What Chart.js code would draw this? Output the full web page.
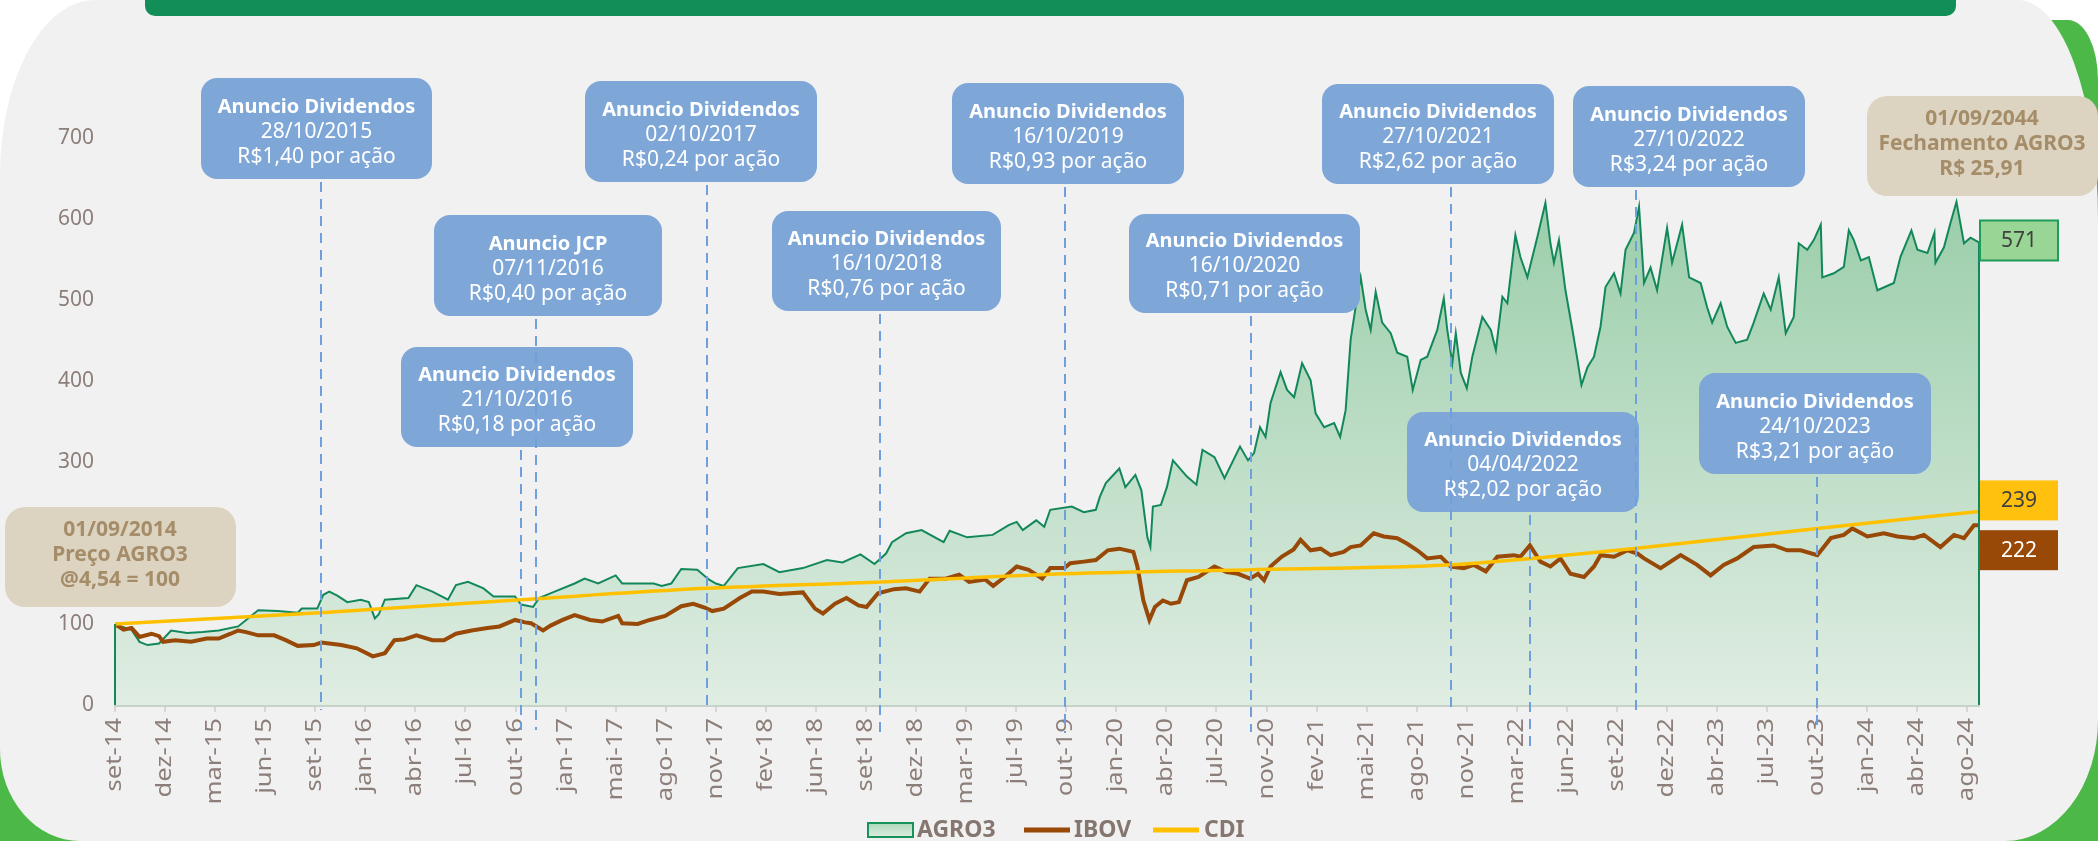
<!DOCTYPE html>
<html lang="pt-BR">
<head>
<meta charset="utf-8">
<title>AGRO3 x IBOV x CDI</title>
<script src="https://cdn.jsdelivr.net/npm/chart.js@4.4.1/dist/chart.umd.min.js"></script>
<style>
  body { margin: 0; background: #fff; }
  #page { position: relative; width: 2098px; height: 841px; overflow: hidden; background: #fff; }
  #green { position: absolute; left: 0; top: 20px; width: 2098px; height: 821px; background: #4cb848;
           border-radius: 300px 30px 0 0 / 500px 60px 0 0; }
  #panel { position: absolute; left: 0; top: 0; width: 2098px; height: 841px; background: #f1f1f1;
           border-radius: 95px 80px 93px 80px / 175px 220px 121px 92px; }
  #banner { position: absolute; left: 145px; top: 0; width: 1811px; height: 16px; background: #128f59;
            border-radius: 0 0 10px 10px; }
  canvas { position: absolute; left: 0; top: 0; }
</style>
</head>
<body>
<div id="page">
  <div id="green"></div>
  <div id="panel"></div>
  <div id="banner"></div>
  <canvas id="chart" width="2098" height="841"></canvas>
</div>
<script>
// rótulos do eixo x (um a cada ~67 pregões)
const xLabels = ["set-14","dez-14","mar-15","jun-15","set-15","jan-16","abr-16","jul-16","out-16","jan-17",
  "mai-17","ago-17","nov-17","fev-18","jun-18","set-18","dez-18","mar-19","jul-19","out-19","jan-20","abr-20",
  "jul-20","nov-20","fev-21","mai-21","ago-21","nov-21","mar-22","jun-22","set-22","dez-22","abr-23","jul-23",
  "out-23","jan-24","abr-24","ago-24"];
const yTicks = [0, 100, 200, 300, 400, 500, 600, 700];

// AGRO3 base 100 (posição em unidades de rótulo do eixo x)
const agroPos = [0,0.17,0.33,0.49,0.65,0.88,1.0,1.12,1.44,1.75,2.07,2.46,2.62,2.86,3.25,3.65,3.73,4.04,4.16,4.28,
  4.44,4.64,4.91,5.07,5.19,5.27,5.39,5.86,6.02,6.34,6.65,6.81,7.05,7.36,7.56,7.99,8.11,8.35,8.47,8.78,9.18,9.38,
  9.65,10.0,10.13,10.76,10.92,11.11,11.31,11.63,11.86,12.0,12.16,12.44,12.95,13.27,13.74,14.22,14.53,14.89,15.17,
  15.4,15.52,15.8,16.11,16.55,16.67,17.02,17.53,17.85,18.01,18.13,18.4,18.56,18.68,19.11,19.35,19.59,19.67,19.79,
  20.06,20.18,20.38,20.5,20.62,20.68,20.73,20.89,21.01,21.13,21.41,21.6,21.72,21.96,22.16,22.47,22.63,22.75,22.87,
  22.98,23.08,23.28,23.41,23.55,23.71,23.88,23.98,24.15,24.35,24.47,24.58,24.68,24.81,24.88,24.98,25.08,25.18,
  25.31,25.48,25.61,25.81,25.92,26.08,26.21,26.41,26.54,26.61,26.71,26.78,26.88,27.0,27.11,27.31,27.48,27.58,
  27.71,27.81,27.97,28.07,28.21,28.41,28.57,28.67,28.74,28.84,28.97,29.11,29.21,29.29,29.41,29.54,29.67,29.77,
  29.94,30.07,30.17,30.34,30.44,30.54,30.67,30.8,31.0,31.1,31.3,31.44,31.67,31.8,31.9,32.07,32.2,32.37,32.6,
  32.73,32.93,33.07,33.23,33.37,33.53,33.63,33.8,33.93,34.07,34.1,34.33,34.53,34.63,34.73,34.87,35.03,35.2,35.53,
  35.66,35.88,36.0,36.2,36.34,36.36,36.53,36.66,36.78,36.93,37.06,37.23];
const agroVal = [100,96,93,78,74,76,84,92,89,90,92,97,105,117,116,114,119,119,136,140,
  135,127,130,127,107,112,130,132,148,140,130,148,152,144,134,134,124,121,132,140,150,156,
  150,160,150,150,147,150,168,167,155,150,147,169,174,164,169,179,176,186,174,
  187,201,212,216,201,215,207,210,222,226,216,228,220,241,245,238,241,257,274,
  292,269,284,265,207,195,245,247,269,302,282,272,315,306,280,319,302,311,343,
  331,373,411,389,380,422,401,360,343,348,331,364,451,504,528,488,463,510,
  472,459,435,430,389,426,430,463,502,463,422,459,410,391,430,479,463,438,
  504,496,580,553,528,578,620,570,546,574,512,463,426,395,417,430,467,516,
  533,508,562,583,615,521,540,512,589,546,593,528,521,491,472,496,467,447,451,
  472,508,488,528,459,479,570,562,574,593,528,533,541,586,574,549,553,512,521,
  553,586,562,558,583,546,565,595,621,570,577,571];

// IBOV base 100
const ibovPos = [0,0.17,0.33,0.49,0.73,0.88,0.96,1.2,1.52,1.83,2.07,2.31,2.46,2.62,2.86,3.18,3.41,3.65,3.97,4.12,
  4.52,4.83,5.15,5.39,5.58,5.78,6.02,6.34,6.57,6.81,7.12,7.44,7.68,7.99,8.19,8.31,8.55,8.7,8.94,9.18,9.49,9.73,
  10.05,10.13,10.44,10.68,10.99,11.31,11.55,11.79,11.93,12.16,12.48,12.72,12.95,13.27,13.74,13.98,14.14,14.38,
  14.61,14.85,15.01,15.24,15.56,15.8,16.07,16.27,16.59,16.86,17.06,17.38,17.54,17.77,18.01,18.25,18.52,18.68,
  18.96,19.08,19.35,19.59,19.83,20.06,20.34,20.42,20.54,20.66,20.77,20.93,21.09,21.25,21.41,21.64,21.96,22.2,
  22.43,22.67,22.83,22.95,23.08,23.3,23.54,23.68,23.88,24.08,24.28,24.54,24.68,24.88,25.14,25.34,25.61,25.81,
  26.01,26.21,26.48,26.68,26.94,27.14,27.38,27.61,27.94,28.07,28.26,28.47,28.67,28.87,29.07,29.34,29.54,29.67,
  29.94,30.21,30.41,30.54,30.87,31.27,31.6,31.87,32.13,32.4,32.73,33.13,33.4,33.67,34.0,34.27,34.53,34.7,35.0,
  35.33,35.6,35.93,36.13,36.46,36.73,36.93,37.13,37.23];
const ibovVal = [100,93,95,84,88,85,78,80,78,82,82,88,92,90,86,86,80,73,74,77,
  74,70,60,64,80,81,86,80,80,88,92,95,97,105,102,101,92,98,105,111,105,103,
  110,101,100,105,110,122,125,120,116,119,132,140,140,137,139,119,113,125,
  132,123,121,138,143,144,140,156,156,161,152,155,147,158,171,167,156,169,
  169,175,177,179,191,193,189,171,129,105,121,129,125,127,154,158,171,164,
  162,156,162,154,171,183,192,204,191,193,185,189,195,197,212,208,206,199,
  191,181,183,171,169,173,165,183,185,183,197,177,171,181,162,158,171,185,
  183,191,187,181,169,185,173,160,173,181,195,197,191,191,185,206,210,218,208,
  212,208,206,210,195,210,206,222,222];

// CDI base 100
const cdiPos = [0, 4.1, 8.1, 11.8, 15.3, 19.0, 22.7, 26.7, 28.3, 30.3, 34.0, 37.23];
const cdiVal = [100, 114, 130, 144, 152, 162, 167, 173, 181, 193, 218, 239];

// anúncios de proventos
const eventTitles = ["Anuncio Dividendos","Anuncio JCP","Anuncio Dividendos","Anuncio Dividendos","Anuncio Dividendos",
  "Anuncio Dividendos","Anuncio Dividendos","Anuncio Dividendos","Anuncio Dividendos","Anuncio Dividendos","Anuncio Dividendos"];
const eventDates = ["28/10/2015","07/11/2016","21/10/2016","02/10/2017","16/10/2018","16/10/2019","16/10/2020",
  "27/10/2021","27/10/2022","04/04/2022","24/10/2023"];
const eventAmounts = ["R$1,40","R$0,40","R$0,18","R$0,24","R$0,76","R$0,93","R$0,71","R$2,62","R$3,24","R$2,02","R$3,21"];
const eventPos = [4.12, 8.40, 8.10, 11.83, 15.28, 18.98, 22.69, 26.68, 30.38, 28.26, 34.0];

// layout das caixas (px): x, y, largura, altura, fim da linha tracejada
const eventBoxes = [
  [201, 78, 231, 101, 710], [434, 215, 228, 101, 730], [401, 347, 232, 100, 730], [585, 81, 232, 101, 707],
  [772, 211, 229, 100, 732], [952, 83, 232, 101, 733], [1129, 214, 231, 99, 732], [1322, 84, 232, 100, 710],
  [1573, 86, 232, 101, 710], [1407, 412, 232, 100, 750], [1699, 373, 232, 101, 730]
];

const startNote = ["01/09/2014", "Preço AGRO3", "@4,54 = 100"];
const endNote = ["01/09/2044", "Fechamento AGRO3", "R$ 25,91"];

Chart.defaults.font.family = "'Noto Sans', sans-serif";
Chart.defaults.color = "#8c7e79";

function toPoints(pos, val) {
  return pos.map((p, i) => ({ x: p, y: val[i] }));
}

function areaGradient(context) {
  const chart = context.chart;
  const area = chart.chartArea;
  if (!area) return "rgba(0,0,0,0)";
  const g = chart.ctx.createLinearGradient(0, area.top, 0, area.bottom);
  g.addColorStop(0, "#92caa3");
  g.addColorStop(1, "#e0ede3");
  return g;
}

function roundBox(c, x, y, w, h, r) {
  c.beginPath();
  c.moveTo(x + r, y);
  c.arcTo(x + w, y, x + w, y + h, r);
  c.arcTo(x + w, y + h, x, y + h, r);
  c.arcTo(x, y + h, x, y, r);
  c.arcTo(x, y, x + w, y, r);
  c.closePath();
}

const overlay = {
  id: "overlay",
  afterDraw(chart) {
    const c = chart.ctx;
    const xs = chart.scales.x;
    const ys = chart.scales.y;
    const last = agroPos.length - 1;
    c.save();

    // rótulos do eixo x, verticais (fonte alongada como no original)
    c.fillStyle = "#8c7e79";
    c.font = "21px 'Noto Sans', sans-serif";
    c.textAlign = "right";
    c.textBaseline = "middle";
    xLabels.forEach((lab, i) => {
      c.save();
      c.translate(xs.getPixelForValue(i), xs.top + 13);
      c.rotate(-Math.PI / 2);
      c.scale(1.22, 1);
      c.fillText(lab, 0, 0);
      c.restore();
    });

    // bordas verticais da área AGRO3
    c.strokeStyle = "#12885a";
    c.lineWidth = 2;
    [[agroPos[0], agroVal[0]], [agroPos[last], agroVal[last]]].forEach(([p, v]) => {
      const px = xs.getPixelForValue(p);
      c.beginPath();
      c.moveTo(px, ys.getPixelForValue(v));
      c.lineTo(px, ys.getPixelForValue(0));
      c.stroke();
    });

    // caixas dos anúncios
    c.textAlign = "center";
    c.textBaseline = "middle";
    eventBoxes.forEach((b, i) => {
      const [bx, by, bw, bh] = b;
      roundBox(c, bx, by, bw, bh, 16);
      c.fillStyle = "#7ea7d8";
      c.fill();
      const cx = bx + bw / 2;
      c.fillStyle = "#ffffff";
      c.font = "bold 20px 'Noto Sans', sans-serif";
      c.fillText(eventTitles[i], cx, by + bh - 72);
      c.font = "21px 'Noto Sans', sans-serif";
      c.fillText(eventDates[i], cx, by + bh - 47);
      c.fillText(eventAmounts[i] + " por ação", cx, by + bh - 22);
    });

    // linhas tracejadas das datas
    c.strokeStyle = "#6f9fdc";
    c.lineWidth = 2;
    c.setLineDash([10, 7]);
    eventBoxes.forEach((b, i) => {
      const px = Math.round(xs.getPixelForValue(eventPos[i]));
      c.beginPath();
      c.moveTo(px, b[1] + b[3] + 3);
      c.lineTo(px, b[4]);
      c.stroke();
    });
    c.setLineDash([]);

    // rótulos de valor final
    const tags = [
      { v: agroVal[last], dy: -2, fill: "#99d594", stroke: "#1f9c5c", text: "#404040" },
      { v: cdiVal[cdiVal.length - 1], dy: -11, fill: "#ffc10e", stroke: null, text: "#404040" },
      { v: ibovVal[ibovVal.length - 1], dy: 25, fill: "#984807", stroke: null, text: "#ffffff" }
    ];
    const tagX = xs.right + 1;
    tags.forEach(t => {
      const cy = ys.getPixelForValue(t.v) + t.dy;
      c.fillStyle = t.fill;
      c.fillRect(tagX, cy - 20, 78, 40);
      if (t.stroke) {
        c.strokeStyle = t.stroke;
        c.lineWidth = 2;
        c.strokeRect(tagX, cy - 20, 78, 40);
      }
      c.fillStyle = t.text;
      c.font = "21px 'Noto Sans', sans-serif";
      c.fillText(String(t.v), tagX + 39, cy + 1);
    });

    // notas bege (início e fechamento)
    [[5, 507, startNote], [1867, 96, endNote]].forEach(([nx, ny, lines]) => {
      roundBox(c, nx, ny, 231, 100, 20);
      c.fillStyle = "#ddd3c1";
      c.fill();
      c.fillStyle = "#a58d69";
      c.font = "bold 21px 'Noto Sans', sans-serif";
      lines.forEach((t, k) => c.fillText(t, nx + 115, ny + 23 + k * 25));
    });

    // legenda
    const ly = 830;
    const lg = c.createLinearGradient(0, ly - 8, 0, ly + 8);
    lg.addColorStop(0, "#a9d6b5");
    lg.addColorStop(1, "#e0efe4");
    c.fillStyle = lg;
    c.fillRect(868, ly - 7, 45, 14);
    c.strokeStyle = "#17925b";
    c.lineWidth = 2;
    c.strokeRect(868, ly - 7, 45, 14);
    c.lineWidth = 5;
    c.strokeStyle = "#984807";
    c.beginPath(); c.moveTo(1024, ly); c.lineTo(1070, ly); c.stroke();
    c.strokeStyle = "#ffc000";
    c.beginPath(); c.moveTo(1153, ly); c.lineTo(1199, ly); c.stroke();
    c.fillStyle = "#85766f";
    c.font = "bold 23px 'Noto Sans', sans-serif";
    c.textAlign = "left";
    c.fillText("AGRO3", 917, ly);
    c.fillText("IBOV", 1074, ly);
    c.fillText("CDI", 1204, ly);

    c.restore();
  }
};

const chart = new Chart(document.getElementById("chart"), {
  type: "line",
  data: {
    datasets: [
      {
        label: "AGRO3",
        data: toPoints(agroPos, agroVal),
        borderColor: "#12885a",
        borderWidth: 2,
        backgroundColor: areaGradient,
        fill: "origin",
        pointRadius: 0,
        tension: 0,
        order: 3
      },
      {
        label: "IBOV",
        data: toPoints(ibovPos, ibovVal),
        borderColor: "#984807",
        borderWidth: 4,
        fill: false,
        pointRadius: 0,
        tension: 0,
        order: 2
      },
      {
        label: "CDI",
        data: toPoints(cdiPos, cdiVal),
        borderColor: "#ffc000",
        borderWidth: 3.5,
        fill: false,
        pointRadius: 0,
        cubicInterpolationMode: "monotone",
        order: 1
      }
    ]
  },
  options: {
    responsive: false,
    animation: false,
    devicePixelRatio: 1,
    events: [],
    layout: { padding: { left: 0, top: 138, right: 119, bottom: 0 } },
    plugins: {
      legend: { display: false },
      tooltip: { enabled: false },
      title: { display: false }
    },
    scales: {
      x: {
        type: "linear",
        min: 0,
        max: 37.23,
        z: 1,
        afterBuildTicks: s => { s.ticks = xLabels.map((_, i) => ({ value: i })); },
        afterFit: s => { s.height = 136; },
        border: { display: true, color: "#c5d3c8", width: 3 },
        grid: { display: true, drawOnChartArea: false, drawTicks: true, tickLength: 7, color: "#d6d6d6", lineWidth: 2 },
        ticks: { display: false }
      },
      y: {
        min: 0,
        max: 700,
        afterBuildTicks: s => { s.ticks = yTicks.map(v => ({ value: v })); },
        afterFit: s => { s.width = 115; },
        border: { display: false },
        grid: { display: false, drawTicks: false },
        ticks: { padding: 21, color: "#8c7e79", font: { size: 21 } }
      }
    }
  },
  plugins: [overlay]
});
</script>
</body>
</html>
